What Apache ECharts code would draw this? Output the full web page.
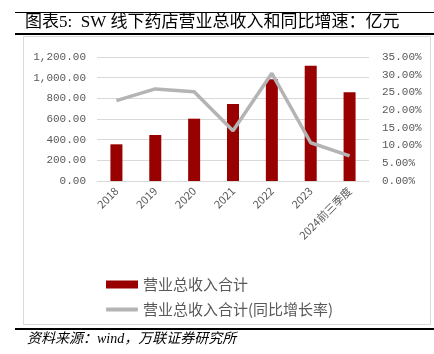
<!DOCTYPE html>
<html>
<head>
<meta charset="utf-8">
<script src="https://cdn.jsdelivr.net/npm/echarts@6/dist/echarts.min.js"></script>
<style>
html,body{margin:0;padding:0;background:#fff;}
#c{width:434px;height:354px;}
</style>
</head>
<body>
<div id="c"></div>
<script>
const categories = ['2018','2019','2020','2021','2022','2023','2024前三季度'];
const revenue = [355, 445, 603, 745, 984, 1116, 858];
const growth = [0.227, 0.260, 0.252, 0.142, 0.304, 0.108, 0.071];
const leftTicks = {min: 0, max: 1200, interval: 200};
const rightTicks = {min: 0, max: 0.35, interval: 0.05};
const seriesNames = ['营业总收入合计', '营业总收入合计(同比增长率)'];
const titleText = '图表5:  SW 线下药店营业总收入和同比增速：亿元';
const sourceText = '资料来源：wind，万联证券研究所';

const chart = echarts.init(document.getElementById('c'));
const cjk = '"Noto Sans CJK SC", sans-serif';
const mono = '"Liberation Mono", monospace';
chart.setOption({
  animation: false,
  backgroundColor: '#fff',
  grid: {left: 97, right: 65, top: 57, bottom: 173, containLabel: false},
  legend: [
    {data: [{name: seriesNames[0], icon: 'rect'}], left: 101, top: 272, itemWidth: 32, itemHeight: 8,
     textStyle: {fontSize: 15, color: '#595959', fontFamily: cjk}},
    {data: [{name: seriesNames[1], icon: 'roundRect'}], left: 101, top: 297, itemWidth: 32, itemHeight: 4,
     textStyle: {fontSize: 15, color: '#595959', fontFamily: cjk}}
  ],
  xAxis: {
    type: 'category', data: categories,
    axisLine: {lineStyle: {color: '#d9d9d9', width: 1}},
    axisTick: {show: false},
    axisLabel: {rotate: 45, fontSize: 11, color: '#595959', margin: 8, interval: 0, fontFamily: cjk}
  },
  yAxis: [
    {type: 'value', min: leftTicks.min, max: leftTicks.max, interval: leftTicks.interval,
     axisLine: {show: false}, axisTick: {show: false},
     splitLine: {lineStyle: {color: '#d9d9d9', width: 1}},
     axisLabel: {fontSize: 11, color: '#595959', fontFamily: mono, margin: 11,
       formatter: v => v.toLocaleString('en-US', {minimumFractionDigits: 2, maximumFractionDigits: 2})}},
    {type: 'value', min: rightTicks.min, max: rightTicks.max, interval: rightTicks.interval,
     axisLine: {show: false}, axisTick: {show: false}, splitLine: {show: false},
     axisLabel: {fontSize: 11, color: '#595959', fontFamily: mono, margin: 13,
       formatter: v => (v * 100).toFixed(2) + '%'}}
  ],
  series: [
    {name: seriesNames[0], type: 'bar', data: revenue, barWidth: 12, yAxisIndex: 0,
     itemStyle: {color: '#990000'}},
    {name: seriesNames[1], type: 'line', data: growth, yAxisIndex: 1, symbol: 'none',
     lineStyle: {color: '#b4b4b4', width: 3.5}, itemStyle: {color: '#b4b4b4'}}
  ],
  graphic: [
    {type: 'line', shape: {x1: 15, y1: 12.5, x2: 434, y2: 12.5}, style: {stroke: '#000', lineWidth: 1}},
    {type: 'text', left: 25, top: 14, style: {text: titleText, fontSize: 17, fill: '#000',
      fontFamily: '"Liberation Serif", "Noto Sans CJK SC", serif'}},
    {type: 'line', shape: {x1: 15, y1: 34, x2: 434, y2: 34}, style: {stroke: '#000', lineWidth: 2}},
    {type: 'rect', shape: {x: 23.5, y: 36.5, width: 407, height: 288}, style: {fill: 'none', stroke: '#d9d9d9', lineWidth: 1}, z: -1},
    {type: 'line', shape: {x1: 15, y1: 329, x2: 434, y2: 329}, style: {stroke: '#000', lineWidth: 2}},
    {type: 'text', left: 27, top: 332, style: {text: sourceText, fontSize: 14, fill: '#000',
      fontStyle: 'italic', fontFamily: '"Liberation Serif", "Noto Sans CJK SC", serif'}}
  ]
});
</script>
</body>
</html>
